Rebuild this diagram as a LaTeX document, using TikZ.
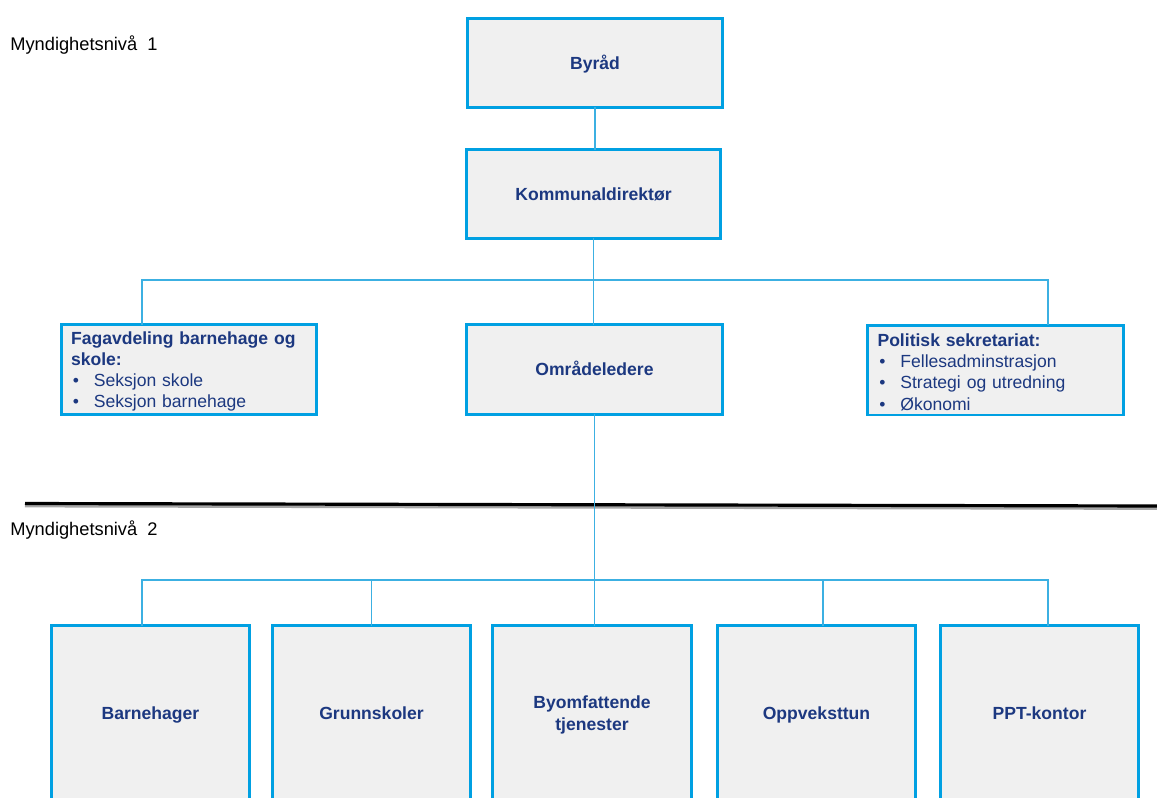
\documentclass[tikz,border=0pt]{standalone}
\usepackage{fontspec}
\setmainfont{Liberation Sans}
\usepackage{xcolor}
\usetikzlibrary{positioning}
\definecolor{boxblue}{RGB}{0,160,226}
\definecolor{linkblue}{RGB}{60,176,226}
\definecolor{boxgray}{RGB}{240,240,240}
\definecolor{textblue}{RGB}{28,56,128}
\newcommand{\itm}{\makebox[13pt][l]{\hspace{1pt}\textbullet}}
\tikzset{
  unit/.style = {draw=boxblue, fill=boxgray, line width=1.7pt,
                 text=textblue, inner sep=0pt, outer sep=0pt,
                 font=\fontsize{10}{12}\selectfont\bfseries},
  oneline/.style = {unit, text height=0.74em, text depth=0.02em},
  listbox/.style = {unit, font=\fontsize{10}{12}\selectfont,
                    align=left, text width=4.72cm, inner xsep=0.2cm,
                    minimum height=1.80cm},
  link/.style = {draw=linkblue, line width=0.7pt},
  level/.style = {anchor=west, inner sep=0pt, font=\fontsize{10.4}{12}\selectfont}
}
\begin{document}
\begin{tikzpicture}[x=0.02cm, y=-0.02cm]
	\useasboundingbox (0,0) rectangle (1157,798);
	\clip (0,0) rectangle (1157,798);

	% Levels
	\node[level] (niva1) at (10,45)  {Myndighetsniv\r{a}\ \ 1};
	\node[level] (niva2) at (10,530) {Myndighetsniv\r{a}\ \ 2};

	% Divider
	\draw[black!35, line width=1.6pt] (25,506) -- (1157,508.5);
	\draw[black, line width=1.8pt] (25,503.5) -- (1157,506);

	% Top units
	\node[oneline, minimum width=5.10cm, minimum height=1.78cm] (byrad) at (595,63) {Byråd};
	\node[oneline, minimum width=5.08cm, minimum height=1.78cm] (direktor) at (593.5,194) {Kommunaldirektør};
	\node[oneline, minimum width=5.12cm, minimum height=1.80cm] (omrade) at (594.5,369.5) {Områdeledere};

	% Staff units
	\node[listbox] (fag) at (189,369.5) {\rule{0pt}{0.98em}\textbf{Fagavdeling barnehage og}\\\textbf{skole:}\\
		\itm Seksjon skole\\
		\itm Seksjon barnehage};
	\node[listbox] (politisk) at (995.5,370) {\rule{0pt}{0.98em}\textbf{Politisk sekretariat:}\\
		\itm Fellesadminstrasjon\\
		\itm Strategi og utredning\\
		\itm Økonomi};

	% Level 2 units
	\node[oneline, minimum width=3.96cm, minimum height=3.50cm] (barnehager) at (150.5,713) {Barnehager};
	\node[oneline, minimum width=3.96cm, minimum height=3.50cm] (grunnskoler) at (371.5,713) {Grunnskoler};
	\node[unit, minimum width=3.98cm, minimum height=3.50cm, align=center] (byomf) at (592,713) {\rule{0pt}{0.95em}Byomfattende\\tjenester};
	\node[oneline, minimum width=3.96cm, minimum height=3.50cm] (oppvekst) at (816.5,713) {Oppveksttun};
	\node[oneline, minimum width=3.96cm, minimum height=3.50cm] (ppt) at (1039.5,713) {PPT-kontor};

	% Connectors
	\coordinate (topbus) at (593,280);
	\coordinate (lowbus) at (593,580);
	\draw[link] (byrad.south) -- (byrad.south |- direktor.north);
	\draw[link] (direktor.south) -- (direktor.south |- omrade.north);
	\draw[link] ([xshift=-0.94cm]fag.north) |- (topbus) -| ([xshift=1.05cm]politisk.north);
	\draw[link] (omrade.south) -- (omrade.south |- byomf.north);
	\draw[link] ([xshift=-0.17cm]barnehager.north) |- (lowbus) -| ([xshift=0.17cm]ppt.north);
	\draw[link] (grunnskoler.north) -- (grunnskoler.north |- lowbus);
	\draw[link] ([xshift=0.13cm]oppvekst.north) -- ([xshift=0.13cm]oppvekst.north |- lowbus);

\end{tikzpicture}
\end{document}
